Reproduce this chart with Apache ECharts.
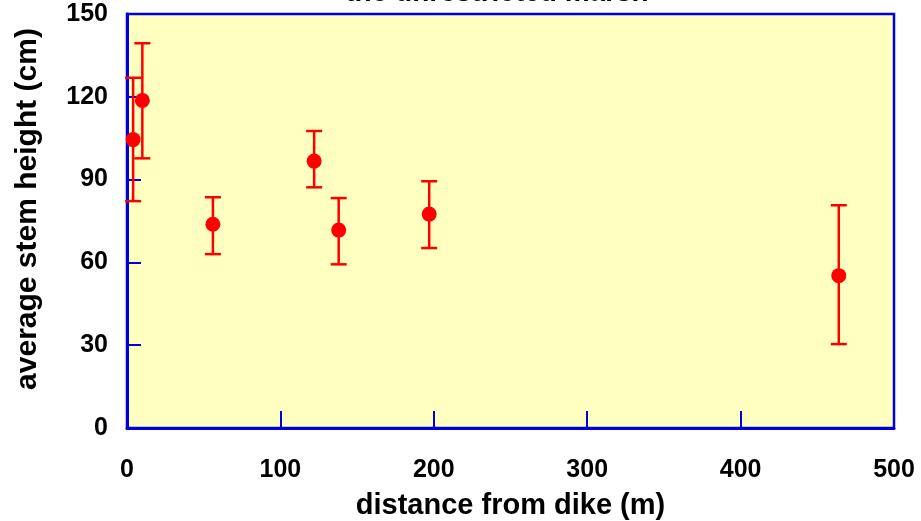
<!DOCTYPE html>
<html>
<head>
<meta charset="utf-8">
<script src="https://cdn.jsdelivr.net/npm/echarts@6/dist/echarts.min.js"></script>
<style>
	html, body { margin: 0; padding: 0; background: #fff; }
	#chart { width: 921px; height: 521px; }
</style>
</head>
<body>
<div id="chart"></div>
<script>
// distance from dike (m), mean stem height (cm), error bar ends
const distance = [4, 10, 56, 122, 138, 197, 464];
const meanHeight = [104.5, 118.7, 73.8, 96.7, 71.7, 77.5, 55.2];
const lowHeight = [82.2, 97.7, 63.0, 87.2, 59.3, 65.2, 30.4];
const highHeight = [126.9, 139.4, 83.6, 107.6, 83.3, 89.4, 80.7];

const axisBlue = '#0000dd';
const markRed = '#ff0000';
const font = '"Liberation Sans", Arial, sans-serif';

const points = distance.map((d, i) => [d, meanHeight[i]]);
const bars = distance.map((d, i) => [d, lowHeight[i], highHeight[i]]);

const chart = echarts.init(document.getElementById('chart'));

chart.setOption({
	animation: false,
	backgroundColor: '#ffffff',
	grid: {
		left: 127, right: 27, top: 14, bottom: 93,
		outerBoundsMode: 'none',
		containLabel: false,
		show: true,
		backgroundColor: '#ffffc0',
		borderColor: axisBlue,
		borderWidth: 2.5
	},
	graphic: [{
		type: 'text',
		x: 497, y: 7,
		silent: true,
		style: {
			text: 'the unrestricted marsh',
			font: 'bold 28px ' + font,
			fill: '#000',
			align: 'center',
			verticalAlign: 'bottom'
		}
	}],
	xAxis: {
		type: 'value',
		min: 0, max: 500, interval: 100,
		name: 'distance from dike (m)',
		nameLocation: 'middle',
		nameGap: 63,
		nameTextStyle: { fontFamily: font, fontWeight: 'bold', fontSize: 29, color: '#000' },
		axisLine: { show: true, lineStyle: { color: axisBlue, width: 3 } },
		axisTick: { show: true, inside: true, length: 17, lineStyle: { color: axisBlue, width: 2 } },
		axisLabel: { margin: 30, fontFamily: font, fontWeight: 'bold', fontSize: 25, color: '#000' },
		splitLine: { show: false }
	},
	yAxis: {
		type: 'value',
		min: 0, max: 150, interval: 30,
		name: 'average stem height (cm)',
		nameLocation: 'middle',
		nameGap: 84,
		nameTextStyle: { fontFamily: font, fontWeight: 'bold', fontSize: 30, color: '#000', padding: [0, 0, 0, 24] },
		axisLine: { show: true, lineStyle: { color: axisBlue, width: 3 } },
		axisTick: { show: true, inside: true, length: 14, lineStyle: { color: axisBlue, width: 2 } },
		axisLabel: { margin: 19, padding: [5, 0, 0, 0], fontFamily: font, fontWeight: 'bold', fontSize: 25, color: '#000' },
		splitLine: { show: false }
	},
	series: [
		{
			type: 'custom',
			data: bars,
			renderItem: (params, api) => {
				const x = api.value(0);
				const lo = api.coord([x, api.value(1)]);
				const hi = api.coord([x, api.value(2)]);
				const cap = 8;
				const style = { stroke: markRed, lineWidth: 2.5 };
				return {
					type: 'group',
					children: [
						{ type: 'line', shape: { x1: lo[0], y1: lo[1], x2: hi[0], y2: hi[1] }, style },
						{ type: 'line', shape: { x1: hi[0] - cap, y1: hi[1], x2: hi[0] + cap, y2: hi[1] }, style },
						{ type: 'line', shape: { x1: lo[0] - cap, y1: lo[1], x2: lo[0] + cap, y2: lo[1] }, style }
					]
				};
			},
			z: 2
		},
		{
			type: 'scatter',
			data: points,
			symbol: 'circle',
			symbolSize: 15,
			itemStyle: { color: markRed, opacity: 1 },
			z: 3
		}
	]
});
</script>
</body>
</html>
